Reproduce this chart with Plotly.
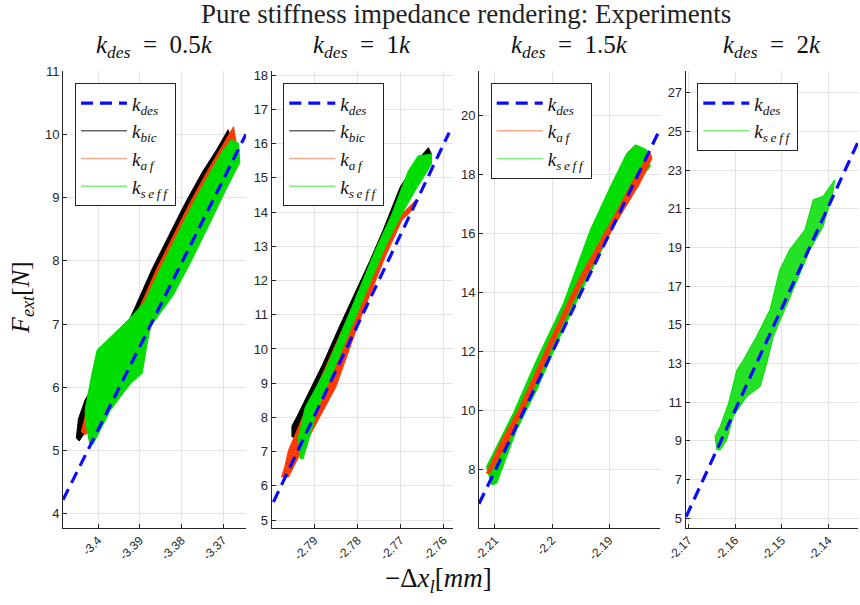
import plotly.graph_objects as go

# ---------------- data ----------------
titles = ["<i>k</i><sub><i>des</i></sub>&nbsp;&nbsp;=&nbsp;&nbsp;0.5<i>k</i>",
          "<i>k</i><sub><i>des</i></sub>&nbsp;&nbsp;=&nbsp;&nbsp;1<i>k</i>",
          "<i>k</i><sub><i>des</i></sub>&nbsp;&nbsp;=&nbsp;&nbsp;1.5<i>k</i>",
          "<i>k</i><sub><i>des</i></sub>&nbsp;&nbsp;=&nbsp;&nbsp;2<i>k</i>"]

# desired stiffness lines (end points)
kdes1_x = [-3.4084, -3.3645]; kdes1_F = [4.22, 10.00]
kdes2_x = [-2.7995, -2.7587]; kdes2_F = [5.53, 16.32]
kdes3_x = [-2.2128, -2.1812]; kdes3_F = [6.85, 19.51]
kdes4_x = [-2.1705, -2.1336]; kdes4_F = [5.08, 24.45]

# panel 1 envelopes
bic1_x = [-3.4052, -3.4047, -3.4031, -3.3990, -3.3950, -3.3910, -3.3871, -3.3830, -3.3791, -3.3750, -3.3716, -3.3688,
          -3.3678, -3.3700, -3.3760, -3.3830, -3.3880, -3.3905, -3.3922, -3.3950, -3.3990, -3.4025, -3.4045, -3.4052]
bic1_F = [5.20, 5.50, 5.80, 6.25, 6.70, 7.28, 7.86, 8.40, 8.91, 9.40, 9.75, 10.07,
          9.90, 9.50, 8.80, 7.95, 7.10, 6.40, 6.06, 5.85, 5.60, 5.35, 5.15, 5.20]
af1_x = [-3.4040, -3.4025, -3.3980, -3.3938, -3.3899, -3.3860, -3.3819, -3.3780, -3.3739, -3.3707, -3.3675,
         -3.3668, -3.3700, -3.3760, -3.3830, -3.3880, -3.3920, -3.3970, -3.4030, -3.4040]
af1_F = [5.30, 5.70, 6.30, 6.85, 7.28, 7.86, 8.40, 8.91, 9.40, 9.75, 10.12,
         9.85, 9.40, 8.70, 7.80, 7.00, 6.30, 5.80, 5.25, 5.30]
seff1_x = [-3.4019, -3.4030, -3.4031, -3.4015, -3.4002, -3.3970, -3.3930, -3.3890, -3.3852, -3.3811, -3.3772,
           -3.3731, -3.3700, -3.3681, -3.3663, -3.3660, -3.3695, -3.3735, -3.3780, -3.3820, -3.3874, -3.3882,
           -3.3894, -3.3922, -3.3970, -3.4011, -3.4019]
seff1_F = [5.08, 5.45, 5.64, 6.20, 6.59, 6.80, 7.05, 7.33, 7.86, 8.40, 8.91,
           9.40, 9.75, 9.91, 9.86, 9.55, 9.10, 8.55, 7.95, 7.45, 6.96, 6.70,
           6.22, 6.06, 5.64, 5.11, 5.08]

# panel 2 envelopes
bic2_x = [-2.7952, -2.7952, -2.7941, -2.7910, -2.7880, -2.7842, -2.7803, -2.7772, -2.7741, -2.7701, -2.7662, -2.7635,
          -2.7628, -2.7651, -2.7713, -2.7755, -2.7798, -2.7840, -2.7875, -2.7910, -2.7945, -2.7952]
bic2_F = [7.43, 7.75, 8.01, 8.80, 9.57, 10.65, 11.71, 12.55, 13.45, 14.72, 15.50, 15.88,
          15.69, 15.11, 13.65, 12.50, 11.32, 10.20, 9.18, 8.30, 7.43, 7.43]
af2_x = [-2.7976, -2.7968, -2.7960, -2.7935, -2.7914, -2.7898, -2.7836, -2.7759, -2.7697, -2.7666,
         -2.7674, -2.7697, -2.7736, -2.7798, -2.7850, -2.7929, -2.7960, -2.7976]
af2_F = [6.26, 6.60, 7.04, 7.75, 8.40, 8.79, 10.54, 12.48, 13.94, 14.33,
         14.04, 13.75, 12.68, 10.73, 8.89, 7.04, 6.26, 6.26]
seff2_x = [-2.7933, -2.7937, -2.7921, -2.7875, -2.7813, -2.7759, -2.7720, -2.7682, -2.7659, -2.7628,
           -2.7628, -2.7666, -2.7697, -2.7736, -2.7798, -2.7850, -2.7891, -2.7926, -2.7933]
seff2_F = [6.80, 7.43, 8.30, 9.37, 11.22, 12.87, 13.94, 15.20, 15.64, 15.69,
           15.40, 14.62, 13.94, 12.97, 11.12, 9.57, 8.30, 6.80, 6.80]

# panel 3 envelopes
af3_x = [-2.2115, -2.2091, -2.2056, -2.2009, -2.1951, -2.1892, -2.1851, -2.1828,
         -2.1825, -2.1846, -2.1892, -2.1951, -2.1998, -2.2039, -2.2079, -2.2109, -2.2115]
af3_F = [7.89, 8.90, 10.15, 12.18, 14.55, 16.59, 18.06, 18.74,
         18.56, 17.72, 16.25, 14.21, 12.29, 10.48, 8.90, 7.89, 7.89]
seff3_x = [-2.2106, -2.2115, -2.2068, -2.2027, -2.1980, -2.1933, -2.1898, -2.1869, -2.1854,
           -2.1834, -2.1828, -2.1851, -2.1892, -2.1939, -2.1986, -2.2027, -2.2062, -2.2097, -2.2106]
seff3_F = [7.49, 8.11, 9.92, 11.73, 13.65, 16.14, 17.60, 18.74, 19.02,
           18.85, 18.28, 17.72, 16.25, 14.44, 12.52, 10.71, 9.36, 7.55, 7.49]

# panel 4 envelope
seff4_x = [-2.1639, -2.1643, -2.1632, -2.1614, -2.1596, -2.1582, -2.1554, -2.1525, -2.1504, -2.1483, -2.1450,
           -2.1432, -2.1411, -2.1386, -2.1390, -2.1411, -2.1439, -2.1475, -2.1518, -2.1532, -2.1546, -2.1575,
           -2.1604, -2.1618, -2.1632, -2.1639]
seff4_F = [8.53, 9.22, 9.74, 10.95, 12.67, 13.19, 14.39, 15.78, 17.84, 18.88, 19.91,
           21.47, 21.64, 22.50, 21.81, 20.08, 18.88, 16.81, 14.39, 13.02, 11.81, 11.29,
           10.26, 9.05, 8.53, 8.53]

# axis ticks
xticks1 = [-3.40, -3.39, -3.38, -3.37]; xtext1 = ["-3.4", "-3.39", "-3.38", "-3.37"]
xticks2 = [-2.79, -2.78, -2.77, -2.76]; xtext2 = ["-2.79", "-2.78", "-2.77", "-2.76"]
xticks3 = [-2.21, -2.20, -2.19];        xtext3 = ["-2.21", "-2.2", "-2.19"]
xticks4 = [-2.17, -2.16, -2.15, -2.14]; xtext4 = ["-2.17", "-2.16", "-2.15", "-2.14"]
yticks1 = [4, 5, 6, 7, 8, 9, 10, 11]
yticks2 = [5, 6, 7, 8, 9, 10, 11, 12, 13, 14, 15, 16, 17, 18]
yticks3 = [8, 10, 12, 14, 16, 18, 20]
yticks4 = [5, 7, 9, 11, 13, 15, 17, 19, 21, 23, 25, 27]

xrange1 = [-3.4084, -3.3645]; yrange1 = [3.78, 11.0]
xrange2 = [-2.7999, -2.7578]; yrange2 = [4.78, 18.12]
xrange3 = [-2.2128, -2.1811]; yrange3 = [6.04, 21.52]
xrange4 = [-2.1706, -2.1336]; yrange4 = [4.51, 28.12]

# ---------------- styling ----------------
W, H = 860, 605
BLUE = "#0a0aff"
BLACK = "#000000"
RED = "#ff3a00"
GREEN = "#00dd00"
AX = "#262626"
SERIF = "Liberation Serif"
SANS = "Liberation Sans"
DASH = "12px,7px"

# plot area pixel boxes (left, right) and common top/bottom
px_boxes = [(63, 246), (271.7, 453), (479, 660), (685.7, 858)]
top_px, bot_px = 71, 527.7
legend_px = [(75, 83.3), (283.3, 83.3), (490.7, 83.3), (697.3, 83.3)]

fig = go.Figure()

HS = "\u2009"
NAME_DES = "<i>k<sub>des</sub></i>"
NAME_BIC = "<i>k<sub>bic</sub></i>"
NAME_AF = f"<i>k<sub>a{HS}f</sub></i>"
NAME_SEFF = f"<i>k<sub>s{HS}e{HS}f{HS}f</sub></i>"

legend_sets = [
    ["des", "bic", "af", "seff"],
    ["des", "bic", "af", "seff"],
    ["des", "af", "seff"],
    ["des", "seff"],
]
leg_style = {
    "des": dict(name=NAME_DES, line=dict(color=BLUE, width=3.2, dash=DASH)),
    "bic": dict(name=NAME_BIC, line=dict(color="rgba(0,0,0,0.6)", width=1.5)),
    "af": dict(name=NAME_AF, line=dict(color="rgba(255,80,30,0.5)", width=1.5)),
    "seff": dict(name=NAME_SEFF, line=dict(color="rgba(0,220,0,0.5)", width=1.5)),
}


def axn(i):
    return ("x", "y") if i == 1 else (f"x{i}", f"y{i}")


def fill_trace(x, y, color, fillcolor, i):
    xa, ya = axn(i)
    return go.Scatter(x=x, y=y, mode="lines", fill="toself", fillcolor=fillcolor,
                      line=dict(color=color, width=1), showlegend=False, hoverinfo="skip",
                      xaxis=xa, yaxis=ya)


def dash_trace(x, y, i):
    xa, ya = axn(i)
    return go.Scatter(x=x, y=y, mode="lines", line=dict(color=BLUE, width=3.2, dash=DASH),
                      showlegend=False, hoverinfo="skip", xaxis=xa, yaxis=ya)


# legend-only entries
for i, entries in enumerate(legend_sets, start=1):
    lg = "legend" if i == 1 else f"legend{i}"
    xa, ya = axn(i)
    for key in entries:
        st = leg_style[key]
        fig.add_trace(go.Scatter(x=[None], y=[None], mode="lines", name=st["name"], line=st["line"],
                                 legend=lg, showlegend=True, xaxis=xa, yaxis=ya))

# panel 1
fig.add_trace(fill_trace(bic1_x, bic1_F, BLACK, BLACK, 1))
fig.add_trace(fill_trace(af1_x, af1_F, RED, RED, 1))
fig.add_trace(fill_trace(seff1_x, seff1_F, GREEN, GREEN, 1))
fig.add_trace(dash_trace(kdes1_x, kdes1_F, 1))
# panel 2
fig.add_trace(fill_trace(bic2_x, bic2_F, BLACK, BLACK, 2))
fig.add_trace(fill_trace(af2_x, af2_F, RED, RED, 2))
fig.add_trace(fill_trace(seff2_x, seff2_F, GREEN, GREEN, 2))
fig.add_trace(dash_trace(kdes2_x, kdes2_F, 2))
# panel 3
fig.add_trace(fill_trace(seff3_x, seff3_F, GREEN, GREEN, 3))
fig.add_trace(fill_trace(af3_x, af3_F, RED, RED, 3))
fig.add_trace(dash_trace(kdes3_x, kdes3_F, 3))
# panel 4
fig.add_trace(fill_trace(seff4_x, seff4_F, GREEN, "rgba(0,221,0,0.85)", 4))
fig.add_trace(dash_trace(kdes4_x, kdes4_F, 4))

xt = [(xticks1, xtext1, xrange1), (xticks2, xtext2, xrange2), (xticks3, xtext3, xrange3), (xticks4, xtext4, xrange4)]
yt = [(yticks1, yrange1), (yticks2, yrange2), (yticks3, yrange3), (yticks4, yrange4)]

layout = dict(template="none", width=W, height=H, margin=dict(l=0, r=0, t=0, b=0, pad=0),
              paper_bgcolor="white", plot_bgcolor="white", showlegend=True)

for i in range(1, 5):
    l, r = px_boxes[i - 1]
    xs = "" if i == 1 else str(i)
    tv, tt, xr = xt[i - 1]
    yv, yr = yt[i - 1]
    layout[f"xaxis{xs}"] = dict(domain=[l / W, r / W], range=xr, tickvals=tv, ticktext=tt,
                                tickangle=-45, showgrid=True, gridcolor="#e3e3e3", gridwidth=1,
                                zeroline=False, showline=True, linecolor=AX, linewidth=1,
                                ticks="inside", ticklen=4, tickcolor=AX, automargin=False,
                                tickfont=dict(family=SANS, size=12, color=AX),
                                anchor=f"y{xs}", fixedrange=True)
    layout[f"yaxis{xs}"] = dict(domain=[1 - bot_px / H, 1 - top_px / H], range=yr, tickvals=yv,
                                showgrid=True, gridcolor="#e3e3e3", gridwidth=1,
                                zeroline=False, showline=True, linecolor=AX, linewidth=1,
                                ticks="inside", ticklen=4, tickcolor=AX, automargin=False,
                                tickfont=dict(family=SANS, size=13, color=AX),
                                anchor=f"x{xs}", fixedrange=True)
    lx, ly = legend_px[i - 1]
    layout["legend" if i == 1 else f"legend{i}"] = dict(
        x=lx / W, y=1 - ly / H, xanchor="left", yanchor="top", xref="paper", yref="paper",
        bgcolor="white", bordercolor=AX, borderwidth=1,
        font=dict(family=SERIF, size=19, color="#111"), itemwidth=46, tracegroupgap=0)

ann = []
ann.append(dict(text="Pure stiffness impedance rendering: Experiments", x=466 / W, y=1 - 14 / H,
                xref="paper", yref="paper", showarrow=False, xanchor="center", yanchor="middle",
                font=dict(family=SERIF, size=27, color="#222")))
for i in range(4):
    l, r = px_boxes[i]
    ann.append(dict(text=titles[i], x=(l + r) / 2 / W, y=1 - 47 / H,
                    xref="paper", yref="paper", showarrow=False, xanchor="center", yanchor="middle",
                    font=dict(family=SERIF, size=25, color="#111")))
ann.append(dict(text="<i>F<sub>ext</sub></i>[<i>N</i>]", x=22 / W, y=1 - 298 / H, xref="paper", yref="paper",
                showarrow=False, textangle=-90, xanchor="center", yanchor="middle",
                font=dict(family=SERIF, size=26, color="#111")))
ann.append(dict(text="\u2212\u0394<i>x<sub>l</sub></i>[<i>mm</i>]", x=438 / W, y=1 - 580 / H, xref="paper",
                yref="paper", showarrow=False, xanchor="center", yanchor="middle",
                font=dict(family=SERIF, size=27, color="#111")))
layout["annotations"] = ann

fig.update_layout(**layout)
fig.write_html("out.html", config={"displayModeBar": False},
               post_script="document.body.style.margin='0';")
